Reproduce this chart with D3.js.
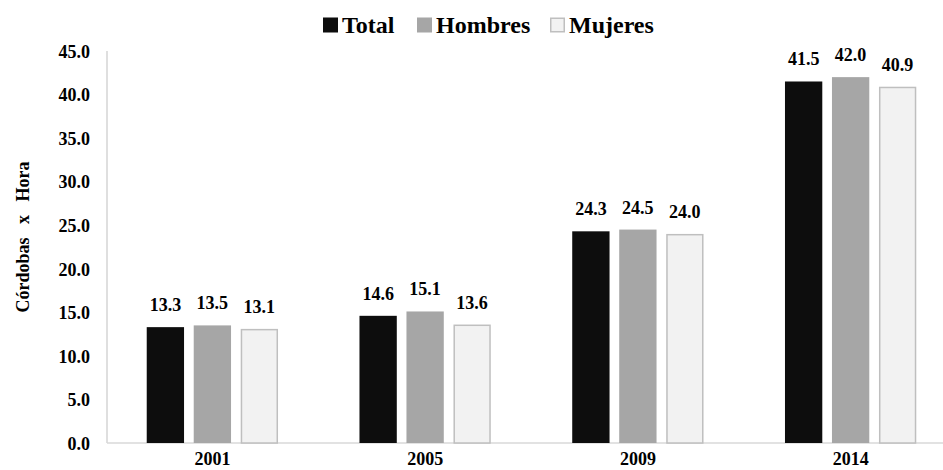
<!DOCTYPE html>
<html><head><meta charset="utf-8">
<script src="https://cdn.jsdelivr.net/npm/d3@7"></script>
<style>
html,body{margin:0;padding:0;background:#fff;overflow:hidden}
</style></head><body>
<svg id="c" width="943" height="470"></svg>
<script>
const years = ["2001","2005","2009","2014"];
const seriesNames = ["Total","Hombres","Mujeres"];
const total = [13.3,14.6,24.3,41.5];
const hombres = [13.5,15.1,24.5,42.0];
const mujeres = [13.1,13.6,24.0,40.9];
const yTicks = [0,5,10,15,20,25,30,35,40,45];
const seriesValues = [total, hombres, mujeres];
const fills = ["#0d0d0d","#a6a6a6","#f2f2f2"];
const strokes = ["none","none","#bfbfbf"];
const FONT = '"Liberation Serif"';

const svg = d3.select("#c");
const x0 = d3.scaleBand().domain(years).range([106,957]).paddingInner(0).paddingOuter(0);
const x1 = d3.scaleBand().domain(seriesNames).range([0,131.3]).paddingInner(0.206).paddingOuter(0);
const y = d3.scaleLinear().domain([0,45]).range([443,51]);

function tx(sel, size){ return sel.attr("font-family",null).style("font-family",FONT).style("font-weight","bold").style("font-size",size+"px").attr("fill","#000"); }

// axes lines
svg.append("line").attr("x1",107).attr("x2",107).attr("y1",y(45)).attr("y2",y(0)).attr("stroke","#bfbfbf").attr("stroke-width",1);
svg.append("line").attr("x1",107).attr("x2",957).attr("y1",y(0)).attr("y2",y(0)).attr("stroke","#d9d9d9").attr("stroke-width",1.5);

const yAxis = d3.axisLeft(y).tickValues(yTicks).tickFormat(d3.format(".1f")).tickSize(0).tickPadding(0);
const gy = svg.append("g").attr("transform","translate(90,0)").call(yAxis);
gy.attr("font-family",null).attr("font-size",null);
gy.select(".domain").remove();
tx(gy.selectAll("text"),18).attr("text-anchor","end").attr("dy","0.35em");

const xAxis = d3.axisBottom(x0).tickSize(0).tickPadding(0);
const gx = svg.append("g").attr("transform","translate(0,465)").call(xAxis);
gx.attr("font-family",null).attr("font-size",null);
gx.select(".domain").remove();
tx(gx.selectAll("text"),18).attr("dy","0");

// bars
const groups = svg.selectAll("g.grp").data(years).enter().append("g").attr("class","grp")
  .attr("transform",d=>`translate(${x0(d)+(x0.bandwidth()-131.3)/2},0)`);
seriesNames.forEach((s,si)=>{
  const inset = si===2?0.75:0;
  groups.append("rect")
    .attr("x",x1(s)+inset)
    .attr("y",(d,i)=>y(seriesValues[si][i])+inset)
    .attr("width",x1.bandwidth()-2*inset)
    .attr("height",(d,i)=>y(0)-y(seriesValues[si][i])-inset)
    .attr("fill",fills[si]).attr("stroke",strokes[si]).attr("stroke-width",1.5);
  tx(groups.append("text"),18)
    .attr("x",x1(s)+x1.bandwidth()/2)
    .attr("y",(d,i)=>y(seriesValues[si][i])-16)
    .attr("text-anchor","middle")
    .text((d,i)=>d3.format(".1f")(seriesValues[si][i]));
});

// y title
tx(svg.append("text"),18).attr("transform","translate(29,237) rotate(-90)")
  .attr("text-anchor","middle").style("white-space","pre")
  .text("Córdobas   x   Hora");

// legend
const legX = [323,417,550];
seriesNames.forEach((n,i)=>{
  const inset = i===2?0.75:0;
  svg.append("rect").attr("x",legX[i]+inset).attr("y",17.5+inset)
    .attr("width",15-2*inset).attr("height",15-2*inset)
    .attr("fill",fills[i]).attr("stroke",strokes[i]).attr("stroke-width",1.5);
  tx(svg.append("text"),24).attr("x",legX[i]+19).attr("y",33).text(n);
});
</script></body></html>
